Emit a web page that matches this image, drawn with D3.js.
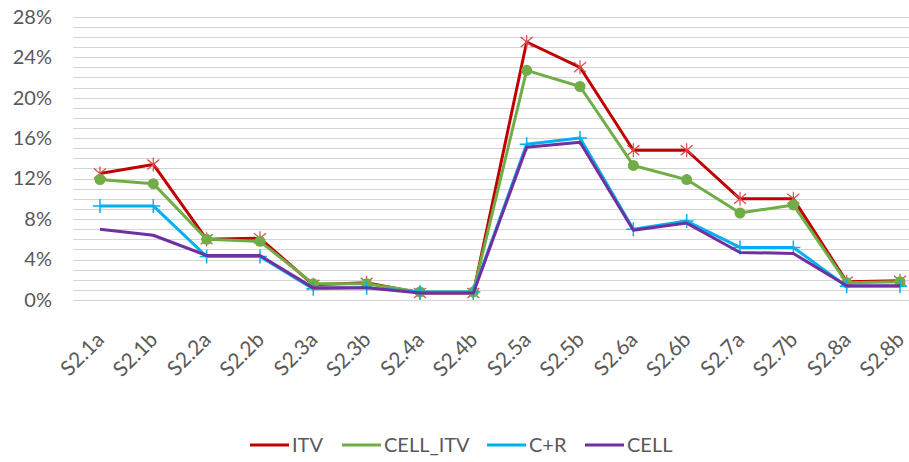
<!DOCTYPE html>
<html>
<head>
<meta charset="utf-8">
<script src="https://cdn.jsdelivr.net/npm/d3@7"></script>
<style>
  html, body { margin: 0; padding: 0; background: #fff; }
  svg { display: block; font-family: Lato, "Open Sans", sans-serif; }
</style>
</head>
<body>
<svg id="chart" width="909" height="462"></svg>
<script>
// Stage categories
const categories = ["S2.1a","S2.1b","S2.2a","S2.2b","S2.3a","S2.3b","S2.4a","S2.4b",
                    "S2.5a","S2.5b","S2.6a","S2.6b","S2.7a","S2.7b","S2.8a","S2.8b"];

// Series values, in percent
const itv      = [12.5, 13.4, 6.0, 6.1, 1.5, 1.7, 0.7, 0.7, 25.5, 23.0, 14.8, 14.8, 10.0, 10.0, 1.8, 1.9];
const cellItv  = [11.9, 11.5, 6.0, 5.8, 1.6, 1.6, 0.8, 0.8, 22.7, 21.1, 13.3, 11.9, 8.6, 9.4, 1.7, 1.8];
const cPlusR   = [9.3, 9.3, 4.3, 4.3, 1.1, 1.2, 0.8, 0.8, 15.4, 16.0, 7.0, 7.8, 5.2, 5.2, 1.35, 1.35];
const cell     = [7.0, 6.4, 4.4, 4.4, 1.2, 1.2, 0.7, 0.7, 15.1, 15.6, 6.9, 7.6, 4.7, 4.6, 1.4, 1.4];

// Axis ticks
const yTickLabels = [0, 4, 8, 12, 16, 20, 24, 28];
const yMax = 28;

const series = [
  { name: "ITV",      values: itv,     color: "#C00000", marker: "star" },
  { name: "CELL_ITV", values: cellItv, color: "#70AD47", marker: "circle" },
  { name: "C+R",      values: cPlusR,  color: "#00B0F0", marker: "plus" },
  { name: "CELL",     values: cell,    color: "#7030A0", marker: "none" }
];

const svg = d3.select("#chart");
const textColor = "#595959";

const x = d3.scalePoint().domain(categories).range([73.3, 926.7]).padding(0.5);
const y = d3.scaleLinear().domain([0, yMax]).range([300, 16.7]);

// Horizontal gridlines every 1%
const gridVals = d3.range(0, yMax + 1, 1);
svg.append("g")
  .selectAll("line")
  .data(gridVals)
  .join("line")
  .attr("x1", 73.3).attr("x2", 909)
  .attr("y1", d => Math.round(y(d)) + 0.5)
  .attr("y2", d => Math.round(y(d)) + 0.5)
  .attr("stroke", "#d4d4d4")
  .attr("stroke-width", 1.2);

// Y axis labels
const yAxis = d3.axisLeft(y)
  .tickValues(yTickLabels)
  .tickFormat(d => d + "%")
  .tickSize(0)
  .tickPadding(0);
const gy = svg.append("g").attr("transform", "translate(52,0)").call(yAxis);
gy.select(".domain").remove();
gy.selectAll("text")
  .attr("fill", textColor)
  .style("font-size", "20px")
  .style("font-family", "Lato, sans-serif");

// X axis labels, rotated
const xAxis = d3.axisBottom(x).tickSize(0).tickPadding(0);
const gx = svg.append("g").attr("transform", "translate(0,300)").call(xAxis);
gx.select(".domain").remove();
gx.selectAll("text")
  .attr("fill", textColor)
  .style("font-size", "21px")
  .style("font-family", "Lato, sans-serif")
  .attr("text-anchor", "end")
  .attr("dy", null)
  .attr("y", 0)
  .attr("transform", "translate(5,41) rotate(-45)");

// Lines and markers
const line = d3.line()
  .x((d, i) => x(categories[i]))
  .y(d => y(d));

const starPath = "M0,-7L0,7M-6,-5L6,5M-6,5L6,-5";
const plusPath = "M0,-7L0,7M-7,0L7,0";

series.forEach(s => {
  const g = svg.append("g");
  g.append("path")
    .datum(s.values)
    .attr("d", line)
    .attr("fill", "none")
    .attr("stroke", s.color)
    .attr("stroke-width", 3)
    .attr("stroke-linejoin", "round");

  const pts = g.selectAll(".pt")
    .data(s.values)
    .join("g")
    .attr("transform", (d, i) => `translate(${x(categories[i])},${y(d)})`);

  if (s.marker === "circle") {
    pts.append("circle").attr("r", 5.5).attr("fill", s.color);
  } else if (s.marker === "star") {
    pts.append("path").attr("d", starPath)
      .attr("fill", "none").attr("stroke", "#D84A4A").attr("stroke-width", 1.2);
  } else if (s.marker === "plus") {
    pts.append("path").attr("d", plusPath)
      .attr("fill", "none").attr("stroke", s.color).attr("stroke-width", 1.5);
  }
});

// Legend
const legendX = [250, 342, 487, 585];
const legend = svg.append("g").attr("transform", "translate(0,445)");
series.forEach((s, i) => {
  const lg = legend.append("g").attr("transform", `translate(${legendX[i]},0)`);
  lg.append("line")
    .attr("x1", 0).attr("x2", 39).attr("y1", 0).attr("y2", 0)
    .attr("stroke", s.color).attr("stroke-width", 3);
  lg.append("text")
    .attr("x", 42).attr("y", 0).attr("dy", "0.35em")
    .attr("fill", textColor)
    .style("font-size", "20px")
    .text(s.name);
});
</script>
</body>
</html>
